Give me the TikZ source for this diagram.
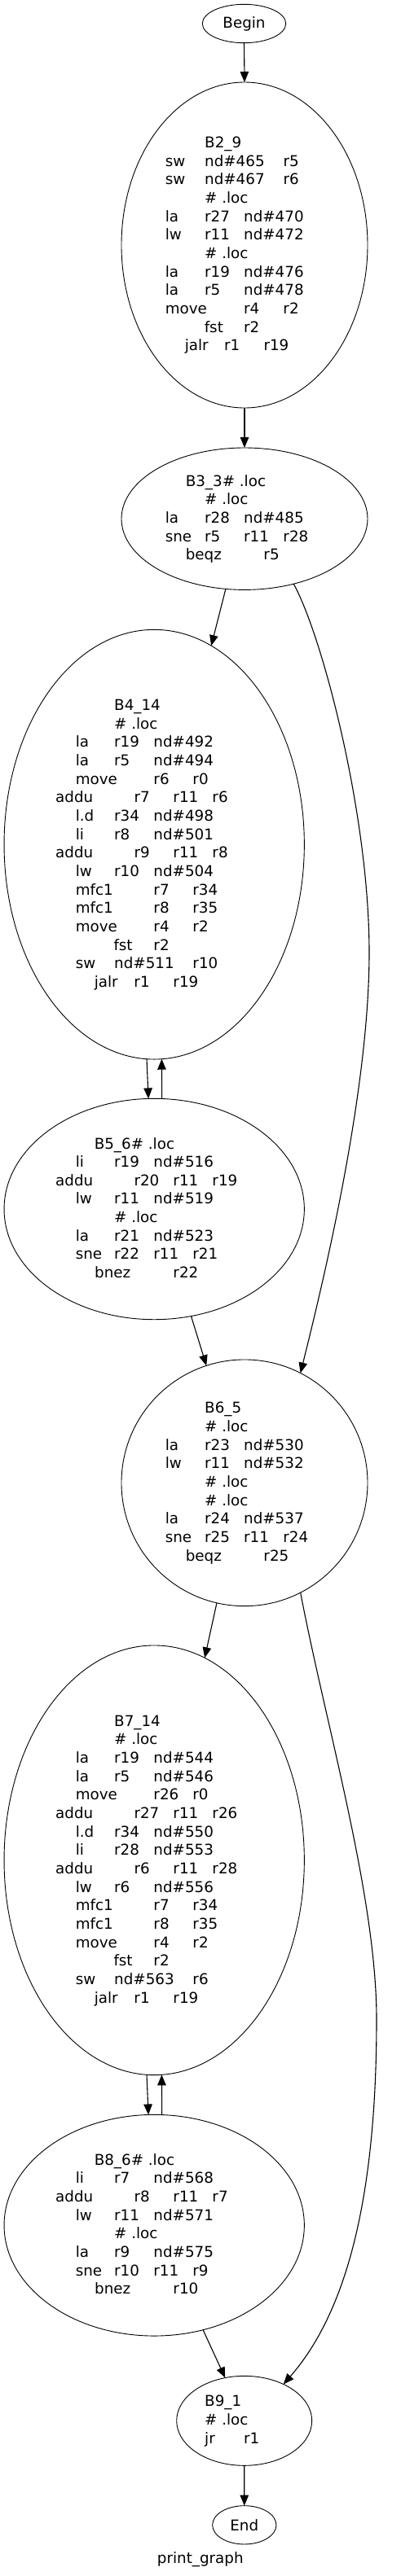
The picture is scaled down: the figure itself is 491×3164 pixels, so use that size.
\documentclass[tikz,border=0pt]{standalone}
\usepackage{fontspec}
\setmainfont{DejaVu Sans}
\usetikzlibrary{arrows.meta,shapes.geometric}
\def\bcx{0}\def\bcy{0}\def\bm{0}
\newcommand\bset[3]{\def\bcx{#1}\def\bcy{#2}\edef\bm{\the\numexpr#3-1\relax}\ignorespaces}
\newcommand\tk[3]{\makebox[0pt][l]{\hspace*{\dimexpr #1pt-\bcx pt-1.5pt\relax}\raisebox{\dimexpr -5.3pt-22.66pt*#2+11.33pt*\bm\relax}[0pt][0pt]{#3}}\ignorespaces}
\tikzset{
  blk/.style={ellipse, draw, line width=0.9pt, inner sep=0pt, outer sep=0pt},
  edge/.style={-{Triangle[length=13pt,width=10.5pt]}, line width=1.1pt},
  ttl/.style={anchor=base, inner sep=0pt}
}
\begin{document}
\begin{tikzpicture}[x=1pt, y=-1pt, font=\fontsize{18.3pt}{22pt}\selectfont]
\useasboundingbox (0,0) rectangle (491,3164);

\node[blk, minimum width=102.4pt, minimum height=47.4pt] (begin) at (299.5,29) {Begin};

\node[blk, minimum width=302pt, minimum height=400pt] (b2) at (300,301) {\bset{300}{301}{12}%
\tk{252.7}{0}{B2\_9}%
\tk{204.3}{1}{sw}\tk{252.7}{1}{nd\#465}\tk{349}{1}{r5}%
\tk{204.3}{2}{sw}\tk{252.7}{2}{nd\#467}\tk{349}{2}{r6}%
\tk{252.7}{3}{\# .loc}%
\tk{204.3}{4}{la}\tk{252.7}{4}{r27}\tk{300.7}{4}{nd\#470}%
\tk{204.3}{5}{lw}\tk{252.7}{5}{r11}\tk{300.7}{5}{nd\#472}%
\tk{252.7}{6}{\# .loc}%
\tk{204.3}{7}{la}\tk{252.7}{7}{r19}\tk{300.7}{7}{nd\#476}%
\tk{204.3}{8}{la}\tk{252.7}{8}{r5}\tk{300.7}{8}{nd\#478}%
\tk{204.3}{9}{move}\tk{300.7}{9}{r4}\tk{349}{9}{r2}%
\tk{252.3}{10}{fst}\tk{300.7}{10}{r2}%
\tk{228.3}{11}{jalr}\tk{276.7}{11}{r1}\tk{325}{11}{r19}};

\node[blk, minimum width=302pt, minimum height=174.4pt] (b3) at (300,637.2) {\bset{300}{637.2}{5}%
\tk{229.3}{0}{B3\_3\# .loc}%
\tk{252.7}{1}{\# .loc}%
\tk{204.3}{2}{la}\tk{252.7}{2}{r28}\tk{300.7}{2}{nd\#485}%
\tk{204.3}{3}{sne}\tk{252.7}{3}{r5}\tk{300.7}{3}{r11}\tk{349}{3}{r28}%
\tk{229.3}{4}{beqz}\tk{325}{4}{r5}};

\node[blk, minimum width=368.3pt, minimum height=527.7pt] (b4) at (189.2,1037.2) {\bset{189.2}{1037.2}{16}%
\tk{141.7}{0}{B4\_14}%
\tk{141.7}{1}{\# .loc}%
\tk{94.3}{2}{la}\tk{141.7}{2}{r19}\tk{190}{2}{nd\#492}%
\tk{94.3}{3}{la}\tk{141.7}{3}{r5}\tk{190}{3}{nd\#494}%
\tk{94.3}{4}{move}\tk{190}{4}{r6}\tk{238}{4}{r0}%
\tk{69.7}{5}{addu}\tk{166}{5}{r7}\tk{214}{5}{r11}\tk{262}{5}{r6}%
\tk{94.3}{6}{l.d}\tk{141.7}{6}{r34}\tk{190}{6}{nd\#498}%
\tk{94.3}{7}{li}\tk{141.7}{7}{r8}\tk{190}{7}{nd\#501}%
\tk{69.7}{8}{addu}\tk{166}{8}{r9}\tk{214}{8}{r11}\tk{262}{8}{r8}%
\tk{94.3}{9}{lw}\tk{141.7}{9}{r10}\tk{190}{9}{nd\#504}%
\tk{94.3}{10}{mfc1}\tk{190}{10}{r7}\tk{238}{10}{r34}%
\tk{94.3}{11}{mfc1}\tk{190}{11}{r8}\tk{238}{11}{r35}%
\tk{94.3}{12}{move}\tk{190}{12}{r4}\tk{238}{12}{r2}%
\tk{141}{13}{fst}\tk{190}{13}{r2}%
\tk{94.3}{14}{sw}\tk{141.7}{14}{nd\#511}\tk{238}{14}{r10}%
\tk{117.3}{15}{jalr}\tk{166}{15}{r1}\tk{214}{15}{r19}};

\node[blk, minimum width=368.3pt, minimum height=271.4pt] (b5) at (189.2,1485) {\bset{189.2}{1485}{8}%
\tk{117.3}{0}{B5\_6\# .loc}%
\tk{94.3}{1}{li}\tk{141.7}{1}{r19}\tk{190}{1}{nd\#516}%
\tk{69.7}{2}{addu}\tk{166}{2}{r20}\tk{214}{2}{r11}\tk{262}{2}{r19}%
\tk{94.3}{3}{lw}\tk{141.7}{3}{r11}\tk{190}{3}{nd\#519}%
\tk{141.7}{4}{\# .loc}%
\tk{94.3}{5}{la}\tk{141.7}{5}{r21}\tk{190}{5}{nd\#523}%
\tk{94.3}{6}{sne}\tk{141.7}{6}{r22}\tk{190}{6}{r11}\tk{238}{6}{r21}%
\tk{117.7}{7}{bnez}\tk{214}{7}{r22}};

\node[blk, minimum width=302pt, minimum height=302.7pt] (b6) at (300,1821.3) {\bset{300}{1821.3}{9}%
\tk{252.7}{0}{B6\_5}%
\tk{252.7}{1}{\# .loc}%
\tk{204.3}{2}{la}\tk{252.7}{2}{r23}\tk{300.7}{2}{nd\#530}%
\tk{204.3}{3}{lw}\tk{252.7}{3}{r11}\tk{300.7}{3}{nd\#532}%
\tk{252.7}{4}{\# .loc}%
\tk{252.7}{5}{\# .loc}%
\tk{204.3}{6}{la}\tk{252.7}{6}{r24}\tk{300.7}{6}{nd\#537}%
\tk{204.3}{7}{sne}\tk{252.7}{7}{r25}\tk{300.7}{7}{r11}\tk{349}{7}{r24}%
\tk{229.3}{8}{beqz}\tk{325}{8}{r25}};

\node[blk, minimum width=368.3pt, minimum height=527.7pt] (b7) at (189.2,2284.8) {\bset{189.2}{2284.8}{16}%
\tk{141.7}{0}{B7\_14}%
\tk{141.7}{1}{\# .loc}%
\tk{94.3}{2}{la}\tk{141.7}{2}{r19}\tk{190}{2}{nd\#544}%
\tk{94.3}{3}{la}\tk{141.7}{3}{r5}\tk{190}{3}{nd\#546}%
\tk{94.3}{4}{move}\tk{190}{4}{r26}\tk{238}{4}{r0}%
\tk{69.7}{5}{addu}\tk{166}{5}{r27}\tk{214}{5}{r11}\tk{262}{5}{r26}%
\tk{94.3}{6}{l.d}\tk{141.7}{6}{r34}\tk{190}{6}{nd\#550}%
\tk{94.3}{7}{li}\tk{141.7}{7}{r28}\tk{190}{7}{nd\#553}%
\tk{69.7}{8}{addu}\tk{166}{8}{r6}\tk{214}{8}{r11}\tk{262}{8}{r28}%
\tk{94.3}{9}{lw}\tk{141.7}{9}{r6}\tk{190}{9}{nd\#556}%
\tk{94.3}{10}{mfc1}\tk{190}{10}{r7}\tk{238}{10}{r34}%
\tk{94.3}{11}{mfc1}\tk{190}{11}{r8}\tk{238}{11}{r35}%
\tk{94.3}{12}{move}\tk{190}{12}{r4}\tk{238}{12}{r2}%
\tk{141}{13}{fst}\tk{190}{13}{r2}%
\tk{94.3}{14}{sw}\tk{141.7}{14}{nd\#563}\tk{238}{14}{r6}%
\tk{117.3}{15}{jalr}\tk{166}{15}{r1}\tk{214}{15}{r19}};

\node[blk, minimum width=368.3pt, minimum height=271.7pt] (b8) at (189.2,2733.2) {\bset{189.2}{2733.2}{8}%
\tk{117.3}{0}{B8\_6\# .loc}%
\tk{94.3}{1}{li}\tk{141.7}{1}{r7}\tk{190}{1}{nd\#568}%
\tk{69.7}{2}{addu}\tk{166}{2}{r8}\tk{214}{2}{r11}\tk{262}{2}{r7}%
\tk{94.3}{3}{lw}\tk{141.7}{3}{r11}\tk{190}{3}{nd\#571}%
\tk{141.7}{4}{\# .loc}%
\tk{94.3}{5}{la}\tk{141.7}{5}{r9}\tk{190}{5}{nd\#575}%
\tk{94.3}{6}{sne}\tk{141.7}{6}{r10}\tk{190}{6}{r11}\tk{238}{6}{r9}%
\tk{117.7}{7}{bnez}\tk{214}{7}{r10}};

\node[blk, minimum width=166pt, minimum height=110pt] (b9) at (299.7,2973.3) {\bset{299.7}{2973.3}{3}%
\tk{252.7}{0}{B9\_1}%
\tk{252.7}{1}{\# .loc}%
\tk{252.7}{2}{jr}\tk{300.7}{2}{r1}};

\node[blk, minimum width=78.3pt, minimum height=47.3pt] (end) at (299.8,3101.3) {End};

\node[ttl] (title) at (245.8,3148.3) {print\_graph};

\draw[edge] (begin.south) -- (b2.north);
\draw[edge] (b2.south) -- (b3.north);
\draw[edge] (b3.-105.8) -- (b4.74.4);
\draw[edge] (b3.-53.7) .. controls (395,780) and (453,1000) .. (453,1170)
  .. controls (453,1350) and (390,1600) .. (b6.63.9);
\draw[edge] (b4.-92) -- (b5.93.9);
\draw[edge] (b5.86.6) -- (b4.-88);
\draw[edge] (b5.-71.5) -- (b6.108);
\draw[edge] (b6.-103.2) -- (b7.76.4);
\draw[edge] (b6.-63.8) .. controls (400,2120) and (462,2330) .. (462,2480)
  .. controls (462,2700) and (425,2840) .. (b9.43);
\draw[edge] (b7.-92) -- (b8.93.9);
\draw[edge] (b8.86.6) -- (b7.-88);
\draw[edge] (b8.-65) -- (b9.114);
\draw[edge] (b9.south) -- (end.north);
\end{tikzpicture}
\end{document}
